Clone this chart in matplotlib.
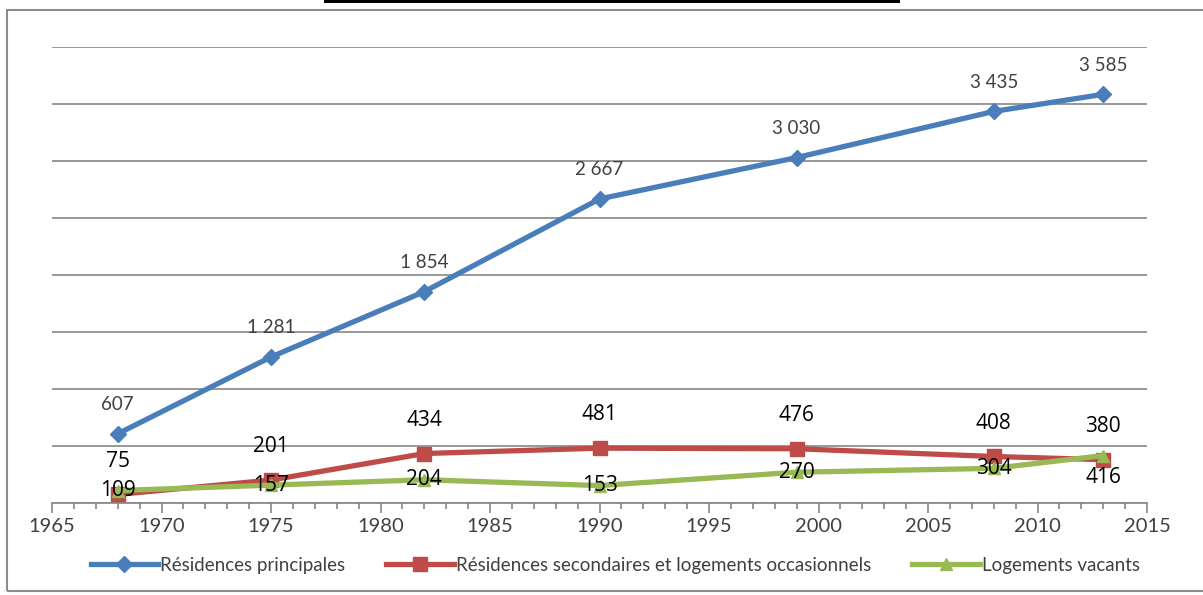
import matplotlib
matplotlib.use("Agg")
import matplotlib.pyplot as plt
from matplotlib.patches import Rectangle
from matplotlib.ticker import MultipleLocator

# data
years = [1968, 1975, 1982, 1990, 1999, 2008, 2013]
principales = [607, 1281, 1854, 2667, 3030, 3435, 3585]
secondaires = [75, 201, 434, 481, 476, 408, 380]
vacants = [109, 157, 204, 153, 270, 304, 416]

labels = ["Résidences principales",
          "Résidences secondaires et logements occasionnels",
          "Logements vacants"]

blue = "#4A7EBB"
red = "#BE4B48"
green = "#98B954"

def fmt(v):
    return f"{v:,}".replace(",", " ")

fig = plt.figure(figsize=(12.03, 5.95), dpi=100)
ax = fig.add_axes([52/1203, 1-503/595, 1095/1203, 456/595])

ax.plot(years, principales, color=blue, lw=3.8, marker="D", ms=8, label=labels[0], zorder=3)
ax.plot(years, secondaires, color=red, lw=3.8, marker="s", ms=10, label=labels[1], zorder=3)
ax.plot(years, vacants, color=green, lw=3.8, marker="^", ms=9, label=labels[2], zorder=4)

for x, v in zip(years, principales):
    ax.annotate(fmt(v), (x, v), xytext=(0, 21), textcoords="offset points",
                ha="center", va="center", fontsize=13.5, color="#404040", family="Lato", zorder=5)
for x, v in zip(years, secondaires):
    ax.annotate(fmt(v), (x, v), xytext=(0, 24), textcoords="offset points",
                ha="center", va="center", fontsize=15, color="black", family="Open Sans", zorder=5)
for i, (x, v) in enumerate(zip(years, vacants)):
    dy = -16 if i == len(years) - 1 else 0
    ax.annotate(fmt(v), (x, v), xytext=(0, dy), textcoords="offset points",
                ha="center", va="center", fontsize=15, color="black", family="Open Sans", zorder=5)

ax.set_xlim(1965, 2015)
ax.set_ylim(0, 4000)
ax.xaxis.set_major_locator(MultipleLocator(5))
ax.xaxis.set_minor_locator(MultipleLocator(1))
ax.yaxis.set_major_locator(MultipleLocator(500))
ax.grid(axis="y", color="#868686", lw=1.2)
ax.set_axisbelow(True)
for s in ["top", "right", "left"]:
    ax.spines[s].set_visible(False)
ax.spines["bottom"].set_color("#868686")
ax.spines["bottom"].set_linewidth(1.2)
ax.tick_params(axis="y", length=0, labelleft=False)
ax.tick_params(axis="x", which="major", length=7, color="#868686", width=1.2,
               labelsize=14.5, labelcolor="#404040", pad=4)
ax.tick_params(axis="x", which="minor", length=4, color="#868686", width=1.2)
for t in ax.get_xticklabels():
    t.set_family("Lato")

fig.legend(loc="center", bbox_to_anchor=(615/1203, 1-565/595), ncol=3, frameon=False,
           prop={"family": "Lato", "size": 13.5}, handlelength=3.6, handletextpad=0.1,
           columnspacing=2.2, labelcolor="#404040")

# outer frame and the cropped title bar
fig.add_artist(Rectangle((7/1203, 1-591/595), 1.0, 581/595, transform=fig.transFigure,
                         fill=False, edgecolor="#8c8c8c", lw=1.5))
fig.add_artist(Rectangle((324/1203, 1-3/595), 576/1203, 3/595, transform=fig.transFigure,
                         color="black", lw=0))

fig.savefig("out.png", dpi=100)
